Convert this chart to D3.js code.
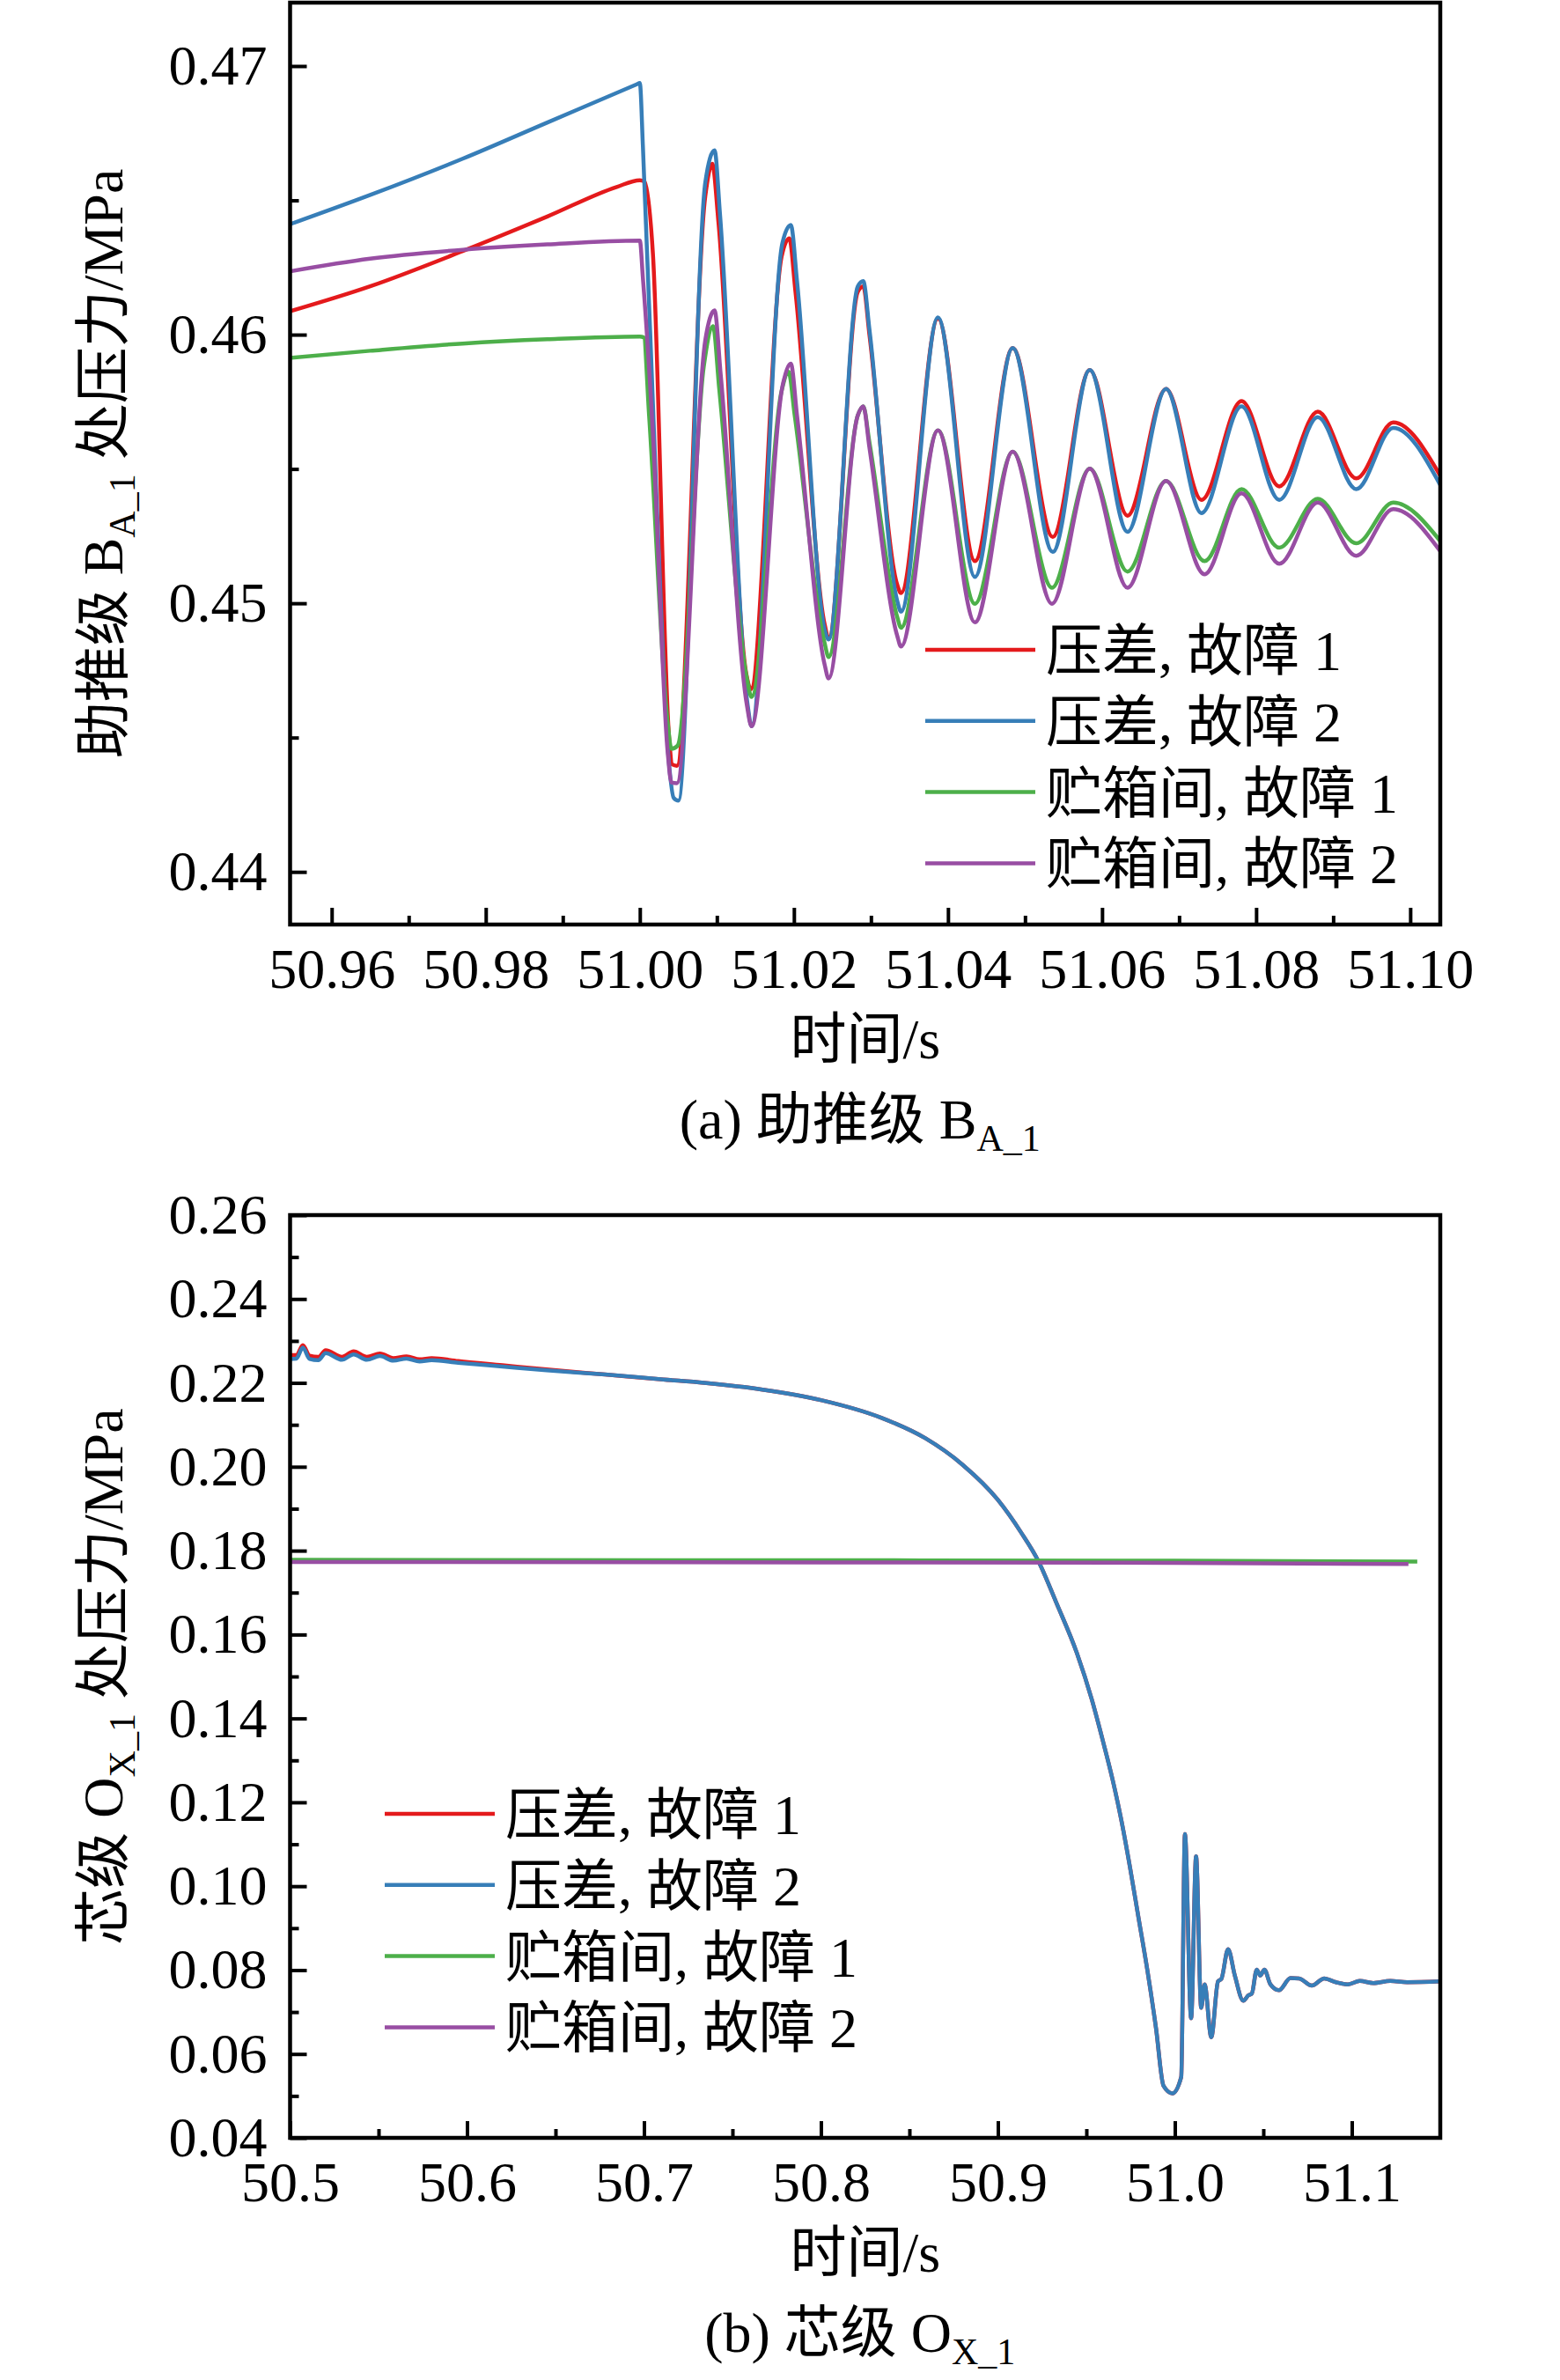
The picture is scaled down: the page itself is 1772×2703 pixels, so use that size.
<!DOCTYPE html>
<html>
<head>
<meta charset="utf-8">
<script src="https://cdn.jsdelivr.net/npm/d3@7"></script>
<style>
  html, body { margin: 0; padding: 0; background: #fff; }
  svg { display: block; }
  text { white-space: pre; }
</style>
</head>
<body>
<div id="chart"></div>
<script>
// ---- data ----
const SERIES_LABELS = ["压差, 故障 1", "压差, 故障 2", "贮箱间, 故障 1", "贮箱间, 故障 2"];
const SERIES_COLORS = ["#e41a1c", "#377eb8", "#4daf4a", "#984ea3"];

// (a) booster B_A_1, [time s, pressure MPa]
const topDiffFault1 = [
  [50.954, 0.46082], [50.965, 0.46180], [50.977, 0.46311], [50.988, 0.46440],
  [50.997, 0.46550], [51.0000, 0.46575], [51.0006, 0.46570], [51.0017, 0.46300],
  [51.0038, 0.44500], [51.0042, 0.44400], [51.0048, 0.44395], [51.0085, 0.46517],
  [51.0094, 0.46636], [51.0102, 0.46420], [51.0138, 0.44740], [51.0144, 0.44680],
  [51.0184, 0.46290], [51.0194, 0.46358], [51.0202, 0.46160], [51.0240, 0.44920],
  [51.0245, 0.44869], [51.0283, 0.46160], [51.0290, 0.46180], [51.0298, 0.46000],
  [51.0334, 0.45070], [51.0339, 0.45038], [51.0387, 0.46060], [51.0435, 0.45157],
  [51.0484, 0.45950], [51.0536, 0.45247], [51.0584, 0.45868], [51.0633, 0.45326],
  [51.0683, 0.45798], [51.0729, 0.45385], [51.0781, 0.45753], [51.0830, 0.45435],
  [51.0880, 0.45713], [51.0930, 0.45465], [51.0978, 0.45673], [51.1040, 0.45470]
];
const topDiffFault2 = [
  [50.954, 0.46405], [50.965, 0.46520], [50.977, 0.46655], [50.988, 0.46790],
  [50.9996, 0.46932], [51.0000, 0.46937], [51.0004, 0.46700], [51.0021, 0.45440],
  [51.0038, 0.44400], [51.0044, 0.44275], [51.0050, 0.44265], [51.0085, 0.46567],
  [51.0097, 0.46686], [51.0104, 0.46450], [51.0140, 0.44620], [51.0145, 0.44542],
  [51.0185, 0.46340], [51.0196, 0.46408], [51.0204, 0.46200], [51.0240, 0.44900],
  [51.0245, 0.44865], [51.0283, 0.46180], [51.0290, 0.46199], [51.0298, 0.46020],
  [51.0334, 0.45010], [51.0339, 0.44969], [51.0387, 0.46064], [51.0435, 0.45098],
  [51.0484, 0.45950], [51.0536, 0.45191], [51.0584, 0.45868], [51.0633, 0.45266],
  [51.0683, 0.45798], [51.0729, 0.45336], [51.0781, 0.45733], [51.0830, 0.45385],
  [51.0880, 0.45693], [51.0930, 0.45425], [51.0978, 0.45653], [51.1040, 0.45435]
];
const topTankFault1 = [
  [50.954, 0.45912], [50.965, 0.45940], [50.977, 0.45967], [50.988, 0.45983],
  [51.0000, 0.45993], [51.0005, 0.45990], [51.0012, 0.45700], [51.0036, 0.44560],
  [51.0041, 0.44458], [51.0049, 0.44470], [51.0083, 0.45882], [51.0095, 0.46031],
  [51.0103, 0.45800], [51.0139, 0.44720], [51.0145, 0.44651], [51.0184, 0.45790],
  [51.0193, 0.45862], [51.0201, 0.45700], [51.0240, 0.44850], [51.0245, 0.44800],
  [51.0283, 0.45700], [51.0290, 0.45733], [51.0298, 0.45600], [51.0334, 0.44950],
  [51.0339, 0.44909], [51.0387, 0.45644], [51.0435, 0.44998], [51.0484, 0.45564],
  [51.0535, 0.45058], [51.0584, 0.45501], [51.0633, 0.45118], [51.0683, 0.45455],
  [51.0733, 0.45157], [51.0781, 0.45425], [51.0830, 0.45207], [51.0880, 0.45389],
  [51.0930, 0.45223], [51.0978, 0.45375], [51.1040, 0.45228]
];
const topTankFault2 = [
  [50.954, 0.46233], [50.965, 0.46283], [50.977, 0.46316], [50.988, 0.46336],
  [51.0000, 0.46350], [51.0004, 0.46210], [51.0017, 0.45630], [51.0036, 0.44450],
  [51.0041, 0.44333], [51.0048, 0.44330], [51.0085, 0.45980], [51.0097, 0.46090],
  [51.0105, 0.45850], [51.0139, 0.44620], [51.0145, 0.44542], [51.0186, 0.45820],
  [51.0196, 0.45892], [51.0204, 0.45700], [51.0240, 0.44770], [51.0245, 0.44720],
  [51.0283, 0.45700], [51.0290, 0.45733], [51.0298, 0.45580], [51.0334, 0.44880],
  [51.0339, 0.44839], [51.0387, 0.45644], [51.0435, 0.44929], [51.0484, 0.45564],
  [51.0535, 0.44998], [51.0584, 0.45501], [51.0633, 0.45058], [51.0683, 0.45455],
  [51.0733, 0.45108], [51.0781, 0.45409], [51.0830, 0.45147], [51.0880, 0.45375],
  [51.0930, 0.45177], [51.0978, 0.45350], [51.1040, 0.45190]
];

// (b) core stage O_X_1
const bottomDiffFault2 = [
  [50.500, 0.2257], [50.5036, 0.2258], [50.5072, 0.2284], [50.511, 0.2257],
  [50.516, 0.2254], [50.5201, 0.2271], [50.5293, 0.2255], [50.5359, 0.2268],
  [50.5434, 0.2255], [50.5508, 0.2264], [50.5583, 0.2253], [50.5658, 0.2258],
  [50.5732, 0.2251], [50.580, 0.2254], [50.595, 0.2248], [50.620, 0.2239],
  [50.645, 0.2230], [50.678, 0.2220], [50.711, 0.2208], [50.734, 0.2200],
  [50.767, 0.2184], [50.800, 0.2159], [50.834, 0.2117], [50.859, 0.2068],
  [50.880, 0.2005], [50.900, 0.1921], [50.913, 0.1844], [50.923, 0.1774],
  [50.933, 0.1676], [50.9447, 0.1555], [50.9530, 0.1446], [50.9596, 0.1342],
  [50.9646, 0.1258], [50.9696, 0.1161], [50.9745, 0.1049], [50.9795, 0.0924],
  [50.9845, 0.0799], [50.9894, 0.0660], [50.9936, 0.0524], [50.9986, 0.0506],
  [51.0036, 0.0545], [51.0057, 0.1124], [51.0092, 0.0685],
  [51.0120, 0.1071], [51.0149, 0.0710], [51.0168, 0.0766], [51.0206, 0.0640],
  [51.0244, 0.0773], [51.0263, 0.0779], [51.0301, 0.0850], [51.0339, 0.0787],
  [51.0387, 0.0727], [51.0416, 0.0740], [51.0435, 0.0744], [51.0463, 0.0801],
  [51.0483, 0.0787], [51.0506, 0.0801], [51.0540, 0.0766], [51.0588, 0.0752],
  [51.0654, 0.0781], [51.0702, 0.0780], [51.0774, 0.0763], [51.0844, 0.0780],
  [51.0911, 0.0771], [51.0978, 0.0766], [51.1045, 0.0774], [51.1122, 0.0769],
  [51.1217, 0.0774], [51.1313, 0.0771], [51.1503, 0.0773]
];
// fault 1 sits a hair above fault 2 at the start, identical from ~50.65 s on
const bottomDiffFault1Start = [
  [50.500, 0.2266], [50.5036, 0.2266], [50.5072, 0.2290], [50.511, 0.2265],
  [50.516, 0.2262], [50.5201, 0.2278], [50.5293, 0.2262], [50.5359, 0.2275],
  [50.5434, 0.2262], [50.5508, 0.2270], [50.5583, 0.2259], [50.5658, 0.2263],
  [50.5732, 0.2256], [50.580, 0.2259], [50.595, 0.2252], [50.620, 0.2242],
  [50.645, 0.2232]
];
const bottomTankFault1 = [[50.500, 0.1778], [50.800, 0.1777], [51.000, 0.1776], [51.137, 0.1774]];
const bottomTankFault2 = [[50.500, 0.1773], [50.800, 0.1772], [51.000, 0.1771], [51.132, 0.1768]];

const topXTicks = [50.96, 50.98, 51.00, 51.02, 51.04, 51.06, 51.08, 51.10];
const topXMinorTicks = [50.97, 50.99, 51.01, 51.03, 51.05, 51.07, 51.09];
const topYTicks = [0.44, 0.45, 0.46, 0.47];
const topYMinorTicks = [0.445, 0.455, 0.465];
const bottomXTicks = [50.5, 50.6, 50.7, 50.8, 50.9, 51.0, 51.1];
const bottomXMinorTicks = [50.55, 50.65, 50.75, 50.85, 50.95, 51.05];
const bottomYTicks = [0.04, 0.06, 0.08, 0.10, 0.12, 0.14, 0.16, 0.18, 0.20, 0.22, 0.24, 0.26];
const bottomYMinorTicks = [0.05, 0.07, 0.09, 0.11, 0.13, 0.15, 0.17, 0.19, 0.21, 0.23, 0.25];

// ---- layout ----
const WIDTH = 1772;
const HEIGHT = 2703;
const FONT = '"Liberation Serif", "Times New Roman", "Noto Sans CJK SC", serif';
const FONT_SIZE = 64;
const SUB_SIZE = 42;
const SUB_SHIFT = 14;
const MAJOR_TICK = 19;
const MINOR_TICK = 10;
const TICK_WIDTH = 4;
const FRAME_WIDTH = 4.5;
const LINE_WIDTH = 4.5;
const LEGEND_ROW = 80.8;

function appendRichText(parent, parts, attrs) {
  const text = parent.append("text")
    .attr("font-family", FONT)
    .attr("font-size", FONT_SIZE)
    .attr("fill", "#000");
  Object.entries(attrs).forEach(([k, v]) => text.attr(k, v));
  let shifted = false;
  parts.forEach((part) => {
    const span = text.append("tspan").text(part.text);
    if (part.sub) {
      span.attr("font-size", SUB_SIZE).attr("dy", SUB_SHIFT);
      shifted = true;
    } else if (shifted) {
      span.attr("dy", -SUB_SHIFT);
      shifted = false;
    }
  });
  return text;
}

function styleAxis(g) {
  g.select(".domain").remove();
  g.selectAll(".tick line").attr("stroke", "#000").attr("stroke-width", TICK_WIDTH);
  g.selectAll(".tick text")
    .attr("font-family", FONT)
    .attr("font-size", FONT_SIZE)
    .attr("fill", "#000");
}

function drawPanel(svg, panel, clipId) {
  const { frame } = panel;
  const x = d3.scaleLinear().domain(panel.xDomain).range([frame.left, frame.right]);
  const y = d3.scaleLinear().domain(panel.yDomain).range([frame.bottom, frame.top]);

  svg.append("clipPath").attr("id", clipId)
    .append("rect")
    .attr("x", frame.left).attr("y", frame.top)
    .attr("width", frame.right - frame.left)
    .attr("height", frame.bottom - frame.top);

  const line = d3.line()
    .x((d) => x(d[0]))
    .y((d) => y(d[1]))
    .curve(d3.curveMonotoneX);

  const linesGroup = svg.append("g").attr("clip-path", `url(#${clipId})`);
  panel.series.forEach((points, i) => {
    linesGroup.append("path")
      .attr("d", line(points))
      .attr("fill", "none")
      .attr("stroke", SERIES_COLORS[i])
      .attr("stroke-width", LINE_WIDTH)
      .attr("stroke-linejoin", "round");
  });

  // inward ticks on left and bottom edges
  svg.append("g")
    .attr("transform", `translate(0,${frame.bottom})`)
    .call(d3.axisBottom(x).tickValues(panel.xTicks).tickSize(-MAJOR_TICK)
      .tickPadding(27).tickFormat(d3.format(panel.xFormat)))
    .call(styleAxis);
  svg.append("g")
    .attr("transform", `translate(0,${frame.bottom})`)
    .call(d3.axisBottom(x).tickValues(panel.xMinor).tickSize(-MINOR_TICK).tickFormat(""))
    .call(styleAxis);
  svg.append("g")
    .attr("transform", `translate(${frame.left},0)`)
    .call(d3.axisLeft(y).tickValues(panel.yTicks).tickSize(-MAJOR_TICK)
      .tickPadding(26).tickFormat(d3.format(".2f")))
    .call(styleAxis);
  svg.append("g")
    .attr("transform", `translate(${frame.left},0)`)
    .call(d3.axisLeft(y).tickValues(panel.yMinor).tickSize(-MINOR_TICK).tickFormat(""))
    .call(styleAxis);

  svg.append("rect")
    .attr("x", frame.left).attr("y", frame.top)
    .attr("width", frame.right - frame.left)
    .attr("height", frame.bottom - frame.top)
    .attr("fill", "none")
    .attr("stroke", "#000")
    .attr("stroke-width", FRAME_WIDTH);

  // legend
  const legend = svg.append("g");
  SERIES_LABELS.forEach((label, i) => {
    const rowY = panel.legend.y + i * LEGEND_ROW;
    legend.append("line")
      .attr("x1", panel.legend.x).attr("x2", panel.legend.x + 125)
      .attr("y1", rowY).attr("y2", rowY)
      .attr("stroke", SERIES_COLORS[i])
      .attr("stroke-width", LINE_WIDTH);
    legend.append("text")
      .attr("x", panel.legend.x + 137)
      .attr("y", rowY + 23)
      .attr("font-family", FONT)
      .attr("font-size", FONT_SIZE)
      .attr("fill", "#000")
      .text(label);
  });

  const centerX = (frame.left + frame.right) / 2;
  const centerY = (frame.top + frame.bottom) / 2;

  appendRichText(svg, panel.yTitle, {
    transform: `translate(139,${centerY}) rotate(-90)`,
    "text-anchor": "middle",
  });
  appendRichText(svg, [{ text: "时间/s" }], {
    x: centerX, y: frame.bottom + 152, "text-anchor": "middle",
  });
  appendRichText(svg, panel.caption, {
    x: centerX - 6, y: frame.bottom + 243, "text-anchor": "middle",
  });
}

const svg = d3.select("#chart")
  .append("svg")
  .attr("width", WIDTH)
  .attr("height", HEIGHT)
  .attr("viewBox", [0, 0, WIDTH, HEIGHT]);

svg.append("rect").attr("width", WIDTH).attr("height", HEIGHT).attr("fill", "#fff");

drawPanel(svg, {
  frame: { left: 329.5, right: 1636, top: 3, bottom: 1050 },
  xDomain: [50.9546, 51.1039],
  yDomain: [0.43804, 0.47236],
  xTicks: topXTicks, xMinor: topXMinorTicks, xFormat: ".2f",
  yTicks: topYTicks, yMinor: topYMinorTicks,
  series: [topDiffFault1, topDiffFault2, topTankFault1, topTankFault2],
  legend: { x: 1051, y: 738 },
  yTitle: [{ text: "助推级 B" }, { text: "A_1", sub: true }, { text: " 处压力/MPa" }],
  caption: [{ text: "(a) 助推级 B" }, { text: "A_1", sub: true }],
}, "clip-top");

const bottomDiffFault1 = bottomDiffFault1Start.concat(
  bottomDiffFault2.filter((d) => d[0] > 50.645)
);

drawPanel(svg, {
  frame: { left: 329.5, right: 1636, top: 1380, bottom: 2428 },
  xDomain: [50.5, 51.15],
  yDomain: [0.04, 0.26],
  xTicks: bottomXTicks, xMinor: bottomXMinorTicks, xFormat: ".1f",
  yTicks: bottomYTicks, yMinor: bottomYMinorTicks,
  series: [bottomDiffFault1, bottomDiffFault2, bottomTankFault1, bottomTankFault2],
  legend: { x: 437, y: 2060 },
  yTitle: [{ text: "芯级 O" }, { text: "X_1", sub: true }, { text: " 处压力/MPa" }],
  caption: [{ text: "(b) 芯级 O" }, { text: "X_1", sub: true }],
}, "clip-bottom");
</script>
</body>
</html>
